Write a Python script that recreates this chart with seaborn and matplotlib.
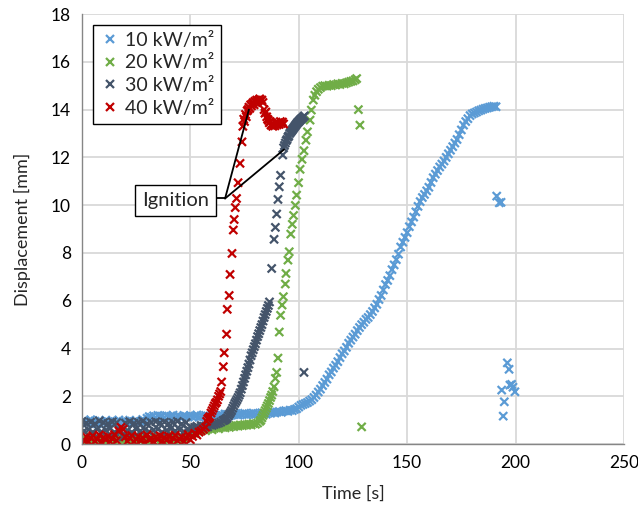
import numpy as np
import pandas as pd
import matplotlib
matplotlib.use('Agg')
import matplotlib.pyplot as plt
import seaborn as sns

# ---- data ----
flux_labels = ['10 kW/m²', '20 kW/m²', '30 kW/m²', '40 kW/m²']
flux_colors = ['#5B9BD5', '#70AD47', '#44546A', '#C00000']

t_10 = [0, 1, 2, 3, 4, 5, 6, 7, 8, 9, 10, 11, 12, 13, 14, 15, 16, 17, 18, 19,
        20, 21, 22, 23, 24, 25, 26, 27, 28, 29,
        30, 31, 32, 33, 34, 35, 36, 37, 38, 39, 40, 41, 42, 43, 44, 45, 46, 47, 48, 49,
        50, 51, 52, 53, 54, 55, 56, 57, 58, 59, 60, 61, 62,
        63, 64, 65, 66, 67, 68, 69, 70, 71, 72, 73, 74, 75, 76, 77, 78, 79, 80,
        81, 82, 83, 84, 85, 86, 87, 88, 89, 90,
        91, 92, 93, 94, 95, 96, 97, 98, 99, 100,
        101, 102, 103, 104, 105, 106, 107, 108, 109, 110,
        111, 112, 113, 114, 115, 116, 117, 118, 119, 120,
        121, 122, 123, 124, 125, 126, 127, 128, 129, 130,
        131, 132, 133, 134, 135, 136, 137, 138, 139, 140,
        141, 142, 143, 144, 145, 146, 147, 148, 149, 150,
        151, 152, 153, 154, 155, 156, 157, 158, 159, 160,
        161, 162, 163, 164, 165, 166, 167, 168, 169, 170,
        171, 172, 173, 174, 175, 176, 177, 178, 179, 180,
        181, 182, 183, 184, 185, 186, 187, 188, 189, 190, 191,
        191.3, 192.5, 193.3, 196.2, 197.0, 193.6, 197.4, 199.7, 194.8, 194.3, 198.8, 198.2]
d_10 = [0.92, 0.98, 0.88, 0.95, 1.02, 0.9, 0.96, 0.85, 0.99, 0.93,
        0.88, 1.0, 0.94, 0.9, 0.97, 0.86, 0.95, 1.01, 0.92, 0.89,
        0.96, 0.93, 1.0, 0.87, 0.94, 0.98, 0.91, 0.95, 1.03, 0.96,
        1.08, 1.15, 1.12, 1.18, 1.1, 1.2, 1.14, 1.17, 1.11, 1.19,
        1.13, 1.16, 1.21, 1.12, 1.18, 1.15, 1.1, 1.2, 1.16, 1.13,
        1.19, 1.14, 1.17, 1.22, 1.12, 1.18, 1.15, 1.2, 1.13, 1.17,
        1.21, 1.16, 1.19,
        1.2, 1.24, 1.18, 1.26, 1.22, 1.19, 1.25, 1.23, 1.28, 1.21,
        1.26, 1.24, 1.29, 1.22, 1.27, 1.25, 1.3, 1.24, 1.28, 1.26,
        1.31, 1.27, 1.25, 1.32, 1.29, 1.33, 1.3, 1.34,
        1.36, 1.33, 1.38, 1.4, 1.37, 1.42, 1.4, 1.45, 1.48, 1.55,
        1.62, 1.66, 1.7, 1.74, 1.8, 1.86, 1.95, 2.05, 2.18, 2.3,
        2.45, 2.58, 2.72, 2.9, 3.02, 3.18, 3.3, 3.45, 3.62, 3.78,
        3.9, 4.05, 4.22, 4.35, 4.48, 4.6, 4.75, 4.88, 5.0, 5.1,
        5.22, 5.3, 5.42, 5.55, 5.7, 5.85, 6.05, 6.22, 6.45, 6.68,
        6.85, 7.05, 7.3, 7.5, 7.72, 7.95, 8.25, 8.45, 8.65, 8.85,
        9.1, 9.3, 9.5, 9.72, 9.95, 10.15, 10.32, 10.45, 10.6, 10.75,
        10.95, 11.15, 11.3, 11.45, 11.6, 11.72, 11.85, 12.0, 12.15, 12.3,
        12.45, 12.6, 12.75, 12.95, 13.15, 13.35, 13.5, 13.62, 13.75, 13.82,
        13.86, 13.9, 13.95, 13.98, 14.02, 14.05, 14.07, 14.1, 14.12, 14.14, 14.12,
        10.38, 10.1, 10.12, 3.4, 3.13, 2.26, 2.47, 2.19, 1.77, 1.17, 2.38, 2.5]

t_20 = [0, 1, 2, 3, 4, 5, 6, 7, 8, 9, 10, 11, 12, 13, 14, 15, 16, 17, 18, 19,
        20, 21, 22, 23, 24, 25, 26, 27, 28, 29, 30, 31, 32, 33, 34, 35, 36, 37, 38, 39,
        40, 41, 42, 43, 44, 45, 46, 47, 48, 49, 50,
        51, 52, 53, 54, 55, 56, 57, 58, 59, 60, 61, 62, 63, 64, 65,
        66, 67, 68, 69, 70, 71, 72, 73, 74, 75, 76, 77, 78, 79, 80,
        81, 82, 82.5, 83, 83.5, 84, 84.5, 85, 85.5, 86, 86.5, 87, 87.5, 88, 88.6,
        89.2, 89.8, 90.4, 91, 91.6, 92.3, 92.9, 93.8, 94.1, 95, 95.6, 96.3, 97, 97.6, 98.4,
        99, 99.9, 100.6, 101.5, 102.4, 103.3, 104, 105.2, 105.8, 106.7, 107.4, 108.2, 109, 110, 111,
        112, 113, 114, 115, 116, 117, 118, 119, 120, 121, 122, 123, 124, 125, 126, 126.7,
        127.5, 128.2, 129]
d_20 = [0.1, 0.25, 0.05, 0.2, 0.3, 0.15, 0.08, 0.22, 0.12, 0.28,
        0.18, 0.05, 0.24, 0.14, 0.3, 0.1, 0.2, 0.26, 0.08, 0.35,
        0.15, 0.22, 0.1, 0.28, 0.18, 0.06, 0.24, 0.12, 0.3, 0.2,
        0.1, 0.26, 0.16, 0.08, 0.22, 0.3, 0.14, 0.2, 0.1, 0.35,
        0.18, 0.25, 0.12, 0.28, 0.2, 0.15, 0.3, 0.22, 0.32, 0.38, 0.42,
        0.45, 0.5, 0.55, 0.52, 0.58, 0.6, 0.56, 0.62, 0.65, 0.6,
        0.66, 0.68, 0.64, 0.7, 0.72, 0.68, 0.74, 0.7, 0.76, 0.73,
        0.78, 0.75, 0.8, 0.77, 0.82, 0.79, 0.84, 0.8, 0.86, 0.83,
        0.88, 0.95, 1.0, 1.1, 1.2, 1.3, 1.4, 1.5, 1.6, 1.7,
        1.82, 1.95, 2.05, 2.2, 2.4, 2.75, 3.0, 3.6, 4.69, 5.39,
        5.82, 6.17, 6.7, 7.14, 7.7, 8.05, 8.79, 9.2, 9.57, 9.99,
        10.42, 10.94, 11.5, 11.92, 12.28, 12.72, 13.07, 13.56, 13.98, 14.4,
        14.6, 14.75, 14.85, 14.92, 14.98,
        15.0, 14.98, 15.02, 15.0, 15.05, 15.03, 15.08, 15.05, 15.1, 15.08,
        15.12, 15.15, 15.18, 15.2, 15.25, 15.3,
        14.0, 13.35, 0.72]

t_30 = [0, 1, 2, 3, 4, 5, 6, 7, 8, 9, 10, 11, 12, 13, 14, 15, 16, 17, 18, 19,
        20, 21, 22, 23, 24, 25, 26, 27, 28, 29, 30, 31, 32, 33, 34, 35, 36, 37, 38, 39,
        40, 41, 42, 43, 44, 45, 46, 47, 48, 49, 50, 51, 52, 53, 54, 55,
        56, 57, 58, 59, 60, 61, 62, 63, 64, 65,
        65.5, 66, 66.5, 67, 67.5, 68, 68.5, 69, 69.5, 70,
        70.5, 71, 71.5, 72, 72.5, 73, 73.5, 74, 74.5, 75,
        75.5, 76, 76.5, 77, 77.5, 78, 78.5, 79, 79.5, 80,
        80.5, 81, 81.5, 82, 82.5, 83, 83.5, 84, 84.5, 85,
        85.5, 86, 86.5,
        87.5, 88.6, 89.2, 89.8, 90.4, 91, 91.6, 92.6,
        93, 93.4, 93.8, 94.2, 94.6, 95, 95.4, 95.8, 96.2, 96.6,
        97, 97.4, 97.8, 98.2, 98.6, 99, 99.4, 99.8, 100.2, 100.6,
        101, 101.4, 101.8, 102.2, 102.6,
        102.4]
d_30 = [0.95, 0.55, 0.88, 0.6, 0.92, 0.5, 0.85, 0.62, 0.97, 0.52,
        0.9, 0.58, 0.86, 0.65, 0.93, 0.5, 0.9, 0.6, 0.55, 0.3,
        0.88, 0.57, 0.94, 0.5, 0.87, 0.63, 0.91, 0.55, 0.96, 0.6,
        0.85, 0.52, 0.9, 0.58, 0.94, 0.62, 0.88, 0.5, 0.92, 0.57,
        0.86, 0.64, 0.9, 0.55, 0.95, 0.6, 0.84, 0.53, 0.9, 0.62,
        0.72, 0.66, 0.7, 0.75, 0.68, 0.78,
        0.7, 0.75, 0.72, 0.8, 0.78, 0.82, 0.85, 0.88, 0.92, 0.98,
        1.0, 1.02, 1.06, 1.1, 1.18, 1.25, 1.32, 1.4, 1.5, 1.6,
        1.7, 1.78, 1.86, 1.95, 2.05, 2.15, 2.3, 2.45, 2.6, 2.75,
        2.9, 3.05, 3.2, 3.35, 3.52, 3.7, 3.82, 3.95, 4.08, 4.2,
        4.35, 4.5, 4.62, 4.75, 4.88, 5.0, 5.15, 5.3, 5.42, 5.55,
        5.68, 5.8, 5.95,
        7.35, 8.57, 9.07, 9.63, 10.24, 10.77, 11.25, 12.1,
        12.4, 12.5, 12.6, 12.7, 12.75, 12.85, 12.9, 13.0, 13.05, 13.1,
        13.15, 13.2, 13.25, 13.3, 13.35, 13.4, 13.45, 13.48, 13.52, 13.56,
        13.6, 13.63, 13.66, 13.7, 13.74,
        3.0]

t_40 = [0, 1, 2, 3, 4, 5, 6, 7, 8, 9, 10, 11, 12, 13, 14, 15, 16, 17, 18, 19,
        20, 21, 22, 23, 24, 25, 26, 27, 28, 29, 30, 31, 32, 33, 34, 35, 36, 37, 38, 39,
        40, 41, 42, 43, 44, 45, 46, 47, 48, 49, 50, 51, 52, 53, 54, 55, 56, 57,
        57.5, 58, 58.5, 59, 59.5, 60, 60.5, 61, 61.5, 62, 62.5, 63, 63.5, 64,
        64.4, 65.2, 65.6, 66.7, 67, 67.9, 68.3, 69.2, 69.8, 70.2, 70.7, 71.3, 72, 72.9, 73.8,
        74.2, 74.6, 75, 75.4, 75.8, 76.2, 76.6, 77, 77.4, 77.8,
        78.2, 78.6, 79, 79.4, 79.8, 80.2, 80.6, 81, 81.5, 82,
        82.5, 83, 83.5, 84, 84.4, 84.8, 85.2, 85.6, 86, 86.4,
        86.8, 87.2, 87.6, 88, 88.5, 89, 89.5, 90, 90.5, 91,
        91.5, 92, 92.5, 93]
d_40 = [0.0, 0.15, 0.3, 0.1, 0.25, 0.35, 0.12, 0.2, 0.38, 0.08,
        0.28, 0.18, 0.33, 0.1, 0.22, 0.4, 0.15, 0.55, 0.7, 0.62,
        0.3, 0.12, 0.25, 0.36, 0.1, 0.2, 0.32, 0.15, 0.27, 0.05,
        0.38, 0.18, 0.24, 0.1, 0.3, 0.2, 0.35, 0.12, 0.28, 0.16,
        0.33, 0.08, 0.25, 0.37, 0.14, 0.22, 0.3, 0.1, 0.26, 0.4,
        0.18, 0.32, 0.45, 0.38, 0.5, 0.55, 0.62, 0.7,
        0.95, 1.05, 1.1, 1.15, 1.3, 1.4, 1.5, 1.6, 1.7, 1.75, 1.85, 2.0, 2.1, 2.2,
        2.6, 3.24, 3.82, 4.6, 5.64, 6.22, 7.1, 7.98, 8.96, 9.4, 9.9, 10.28, 10.94, 11.75, 12.65,
        13.3, 13.6, 13.5, 13.8, 13.7, 13.95, 14.0, 14.1, 14.05, 14.2,
        14.15, 14.25, 14.3, 14.2, 14.35, 14.3, 14.4, 14.35, 14.4, 14.45,
        14.38, 14.4, 14.3, 14.0, 13.85, 13.9, 13.7, 13.6, 13.55, 13.45,
        13.5, 13.35, 13.4, 13.3, 13.38, 13.32, 13.42, 13.36, 13.45, 13.38,
        13.5, 13.42, 13.48, 13.4]

# where the "Ignition" callout points (time, displacement)
ignition_40 = (77.0, 14.0)
ignition_30 = (93.2, 12.33)

df = pd.concat([
    pd.DataFrame({'Time': t_10, 'Displacement': d_10, 'Flux': flux_labels[0]}),
    pd.DataFrame({'Time': t_20, 'Displacement': d_20, 'Flux': flux_labels[1]}),
    pd.DataFrame({'Time': t_30, 'Displacement': d_30, 'Flux': flux_labels[2]}),
    pd.DataFrame({'Time': t_40, 'Displacement': d_40, 'Flux': flux_labels[3]}),
], ignore_index=True)

sns.set_theme(style='whitegrid')
plt.rcParams['font.family'] = ['Lato', 'DejaVu Sans']

fig = plt.figure(figsize=(6.38, 5.2), dpi=100)
ax = fig.add_axes([0.1285, 0.146, 0.8495, 0.827])

sns.scatterplot(data=df, x='Time', y='Displacement', hue='Flux',
                hue_order=flux_labels, palette=dict(zip(flux_labels, flux_colors)),
                marker='x', s=34, linewidth=1.6, ax=ax)

ax.set_xlim(0, 250)
ax.set_ylim(0, 18)
ax.set_xticks([0, 50, 100, 150, 200, 250])
ax.set_yticks(range(0, 19, 2))
ax.grid(True, color='#D9D9D9', lw=1.3)
ax.set_axisbelow(True)
for side in ['top', 'right']:
    ax.spines[side].set_visible(False)
for side in ['left', 'bottom']:
    ax.spines[side].set_color('#868686')
    ax.spines[side].set_linewidth(1.0)
ax.tick_params(length=0, labelsize=12.5, colors='black', pad=8)
ax.set_xlabel('Time [s]', fontsize=13, labelpad=10)
ax.set_ylabel('Displacement [mm]', fontsize=13, labelpad=14)

handles, labels = ax.get_legend_handles_labels()
leg = ax.legend(handles, labels, loc='upper left', bbox_to_anchor=(0.02, 0.975),
                borderaxespad=0, fontsize=14, frameon=True, fancybox=False,
                handletextpad=0.2, labelspacing=0.3, borderpad=0.35, handlelength=1.1,
                markerscale=1.0)
leg.get_frame().set_edgecolor('black')
leg.get_frame().set_linewidth(1.0)
leg.get_frame().set_alpha(1)

# Ignition callout
box_xy = (43.0, 10.2)
joint = (66.0, 10.28)
ax.text(box_xy[0], box_xy[1], 'Ignition', fontsize=14.5, ha='center', va='center',
        bbox=dict(boxstyle='square,pad=0.35', facecolor='white', edgecolor='black', lw=1.0))
ax.plot([61.3, joint[0]], [joint[1], joint[1]], color='black', lw=1.3)
for target in (ignition_40, ignition_30):
    ax.annotate('', xy=target, xytext=joint,
                arrowprops=dict(arrowstyle='-', color='black', lw=1.3, shrinkA=0, shrinkB=0))

fig.savefig('out.png', dpi=100)
